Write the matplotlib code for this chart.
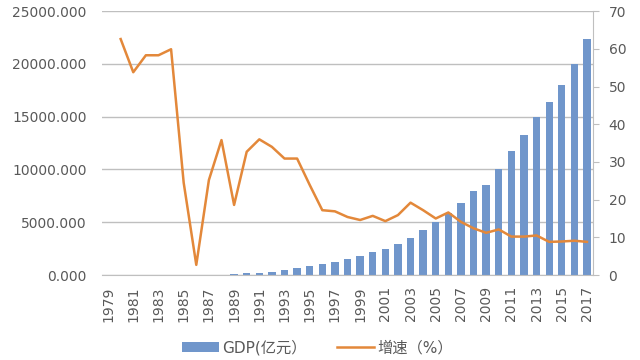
import numpy as np
import matplotlib.pyplot as plt
import matplotlib.ticker as mticker

plt.rcParams['font.family'] = ['DejaVu Sans', 'Noto Sans CJK SC']

years = list(range(1979, 2018))

# GDP (亿元), no bars before 1989
gdp = [None] * 10 + [
    110, 160, 225, 315, 465, 630, 870, 1040, 1265, 1515,
    1770, 2150, 2490, 2965, 3540, 4260, 4990, 5840, 6860, 7930,
    8490, 10010, 11740, 13310, 14990, 16420, 17990, 19980, 22360,
]

# 增速 (%), no value for 1979
growth = [None,
    62.6, 53.8, 58.3, 58.3, 59.9, 24.5, 2.7, 25.2, 35.8, 18.6,
    32.7, 36.0, 34.0, 30.9, 30.9, 23.9, 17.2, 16.9, 15.4, 14.6,
    15.7, 14.3, 15.9, 19.2, 17.2, 15.0, 16.6, 14.1, 12.4, 11.2,
    12.1, 10.2, 10.2, 10.5, 8.8, 8.9, 9.1, 8.8,
]

left_ticks = [0, 5000, 10000, 15000, 20000, 25000]
right_ticks = [0, 10, 20, 30, 40, 50, 60, 70]

bar_color = '#7096CB'
line_color = '#E3883A'
text_color = '#595959'
grid_color = '#BFBFBF'

gdp_v = np.array([np.nan if v is None else v for v in gdp], dtype=float)
gr_v = np.array([np.nan if v is None else v for v in growth], dtype=float)
x = np.arange(len(years))

fig = plt.figure(figsize=(6.4, 3.6), dpi=100)
ax = fig.add_axes([0.159, 0.236, 0.768, 0.733])
ax2 = ax.twinx()

bars = ax.bar(x, np.nan_to_num(gdp_v), width=0.58, color=bar_color, zorder=2)
ax.set_ylim(0, 25000)
ax.set_yticks(left_ticks)
ax.yaxis.set_major_formatter(mticker.FuncFormatter(lambda v, p: '%.3f' % v))
ax.grid(axis='y', color=grid_color, linewidth=1.0, zorder=0)
ax.set_axisbelow(True)
ax.set_xlim(-0.5, len(years) - 0.5)
ax.set_xticks(x[::2])
ax.set_xticklabels([str(y) for y in years[::2]], rotation=90, va='top')
ax.tick_params(axis='y', length=0, pad=11, labelsize=10, labelcolor=text_color)
ax.tick_params(axis='x', length=0, pad=8, labelsize=10, labelcolor=text_color)

for s in ['left', 'top', 'right']:
    ax.spines[s].set_visible(False)
ax.spines['bottom'].set_color(grid_color)

line, = ax2.plot(x, gr_v, color=line_color, linewidth=1.8, zorder=3)
ax2.set_ylim(0, 70)
ax2.set_yticks(right_ticks)
ax2.tick_params(axis='y', length=4, width=0.8, color=grid_color, pad=7,
                labelsize=10, labelcolor=text_color)
for s in ['left', 'top', 'bottom']:
    ax2.spines[s].set_visible(False)
ax2.spines['right'].set_color(grid_color)

fig.legend([bars, line], ['GDP(亿元）', '增速（%）'], loc='center',
           bbox_to_anchor=(0.496, 0.035), ncol=2, frameon=False,
           fontsize=11, labelcolor=text_color, handlelength=2.4,
           handleheight=0.6, columnspacing=2.0, handletextpad=0.2)

fig.savefig('out.png', dpi=100)
